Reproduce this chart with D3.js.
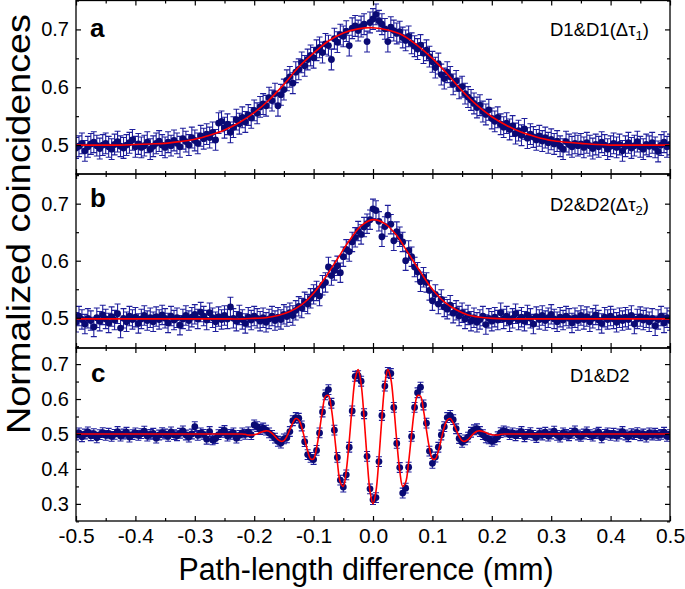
<!DOCTYPE html>
<html><head><meta charset="utf-8">
<script src="https://cdn.jsdelivr.net/npm/d3@7"></script>
<style>body{margin:0;background:#fff}svg{display:block}</style>
</head><body><svg id="c" width="685" height="589"></svg>
<script>
// ---- data (x grid of the measured points: -0.5 .. 0.5 mm, step 0.005 mm)
const xStart = -0.5, xStep = 0.005;

const dataA = [
.495,.498,.503,.490,.497,.502,.505,.499,.494,.500,
.503,.497,.493,.501,.506,.498,.495,.500,.504,.509,
.497,.502,.496,.499,.505,.493,.498,.503,.507,.500,
.496,.505,.499,.508,.503,.497,.511,.506,.500,.513,
.508,.503,.516,.511,.519,.513,.522,.509,.538,.541,
.530,.536,.522,.531,.544,.537,.548,.540,.552,.547,
.560,.555,.566,.571,.568,.582,.577,.589,.568,.587,
.596,.612,.618,.607,.626,.631,.643,.637,.648,.655,
.651,.664,.669,.660,.675,.672,.648,.684,.678,.691,
.688,.697,.672,.702,.706,.698,.705,.709,.679,.712,
.718,.726,.715,.709,.701,.679,.704,.698,.693,.696,
.686,.681,.688,.676,.671,.666,.673,.659,.664,.653,
.644,.634,.641,.622,.615,.626,.618,.605,.611,.598,
.601,.589,.583,.578,.572,.565,.569,.558,.553,.561,
.546,.541,.548,.536,.531,.538,.527,.533,.520,.525,
.517,.528,.512,.519,.514,.509,.516,.507,.513,.504,
.510,.502,.507,.498,.493,.506,.501,.497,.503,.499,
.502,.496,.504,.499,.494,.501,.497,.505,.500,.493,
.498,.503,.496,.501,.490,.498,.504,.495,.499,.506,
.497,.493,.501,.498,.504,.496,.489,.500,.505,.497,
.501];

const dataB = [
.492,.503,.497,.489,.499,.495,.484,.500,.494,.505,
.498,.491,.502,.496,.507,.482,.499,.493,.503,.497,
.501,.490,.498,.504,.495,.500,.493,.502,.497,.505,
.499,.491,.503,.496,.500,.487,.498,.504,.495,.501,
.506,.498,.510,.503,.496,.509,.500,.493,.502,.497,
.504,.498,.519,.499,.494,.505,.497,.490,.501,.496,
.503,.499,.494,.500,.492,.498,.503,.495,.501,.497,
.506,.502,.509,.504,.513,.520,.517,.528,.524,.534,
.541,.547,.538,.557,.562,.589,.574,.583,.591,.579,
.607,.620,.616,.633,.641,.652,.646,.659,.665,.672,
.691,.688,.669,.642,.660,.680,.664,.635,.651,.642,
.633,.600,.618,.607,.589,.580,.563,.571,.562,.548,
.530,.541,.524,.532,.519,.515,.522,.508,.513,.503,
.509,.498,.505,.494,.500,.492,.497,.503,.488,.499,
.494,.501,.496,.509,.498,.503,.493,.499,.507,.496,
.501,.494,.505,.499,.489,.502,.497,.504,.495,.500,
.506,.498,.493,.501,.496,.503,.499,.491,.500,.495,
.504,.497,.502,.493,.499,.505,.496,.490,.501,.497,
.503,.498,.492,.500,.495,.501,.497,.504,.489,.498,
.502,.496,.500,.493,.499,.486,.497,.503,.491,.500,
.495];

const dataC = [
.497,.503,.492,.500,.506,.495,.501,.489,.498,.504,
.496,.502,.493,.499,.507,.494,.500,.505,.491,.498,
.503,.496,.501,.508,.494,.499,.502,.488,.497,.504,
.500,.493,.506,.498,.495,.502,.509,.497,.491,.500,
.521,.496,.503,.499,.485,.507,.483,.487,.498,.505,
.510,.494,.499,.503,.488,.496,.503,.499,.506,.498,
.526,.521,.513,.517,.511,.503,.496,.488,.479,.474,
.486,.489,.507,.538,.547,.545,.523,.478,.441,.433,
.427,.453,.503,.563,.612,.627,.588,.511,.433,.368,
.348,.383,.462,.566,.665,.667,.651,.558,.436,.343,
.312,.318,.421,.553,.637,.676,.673,.576,.473,.404,
.331,.345,.405,.493,.576,.618,.634,.583,.531,.451,
.416,.434,.462,.497,.521,.547,.553,.541,.515,.487,
.476,.483,.491,.505,.512,.515,.507,.498,.489,.486,
.479,.483,.492,.504,.509,.506,.498,.503,.495,.501,
.507,.492,.499,.504,.496,.490,.502,.497,.505,.494,
.500,.508,.496,.491,.503,.499,.495,.502,.509,.497,
.493,.500,.506,.498,.494,.501,.505,.489,.499,.503,
.496,.502,.494,.500,.507,.497,.492,.501,.498,.504,
.495,.500,.491,.503,.497,.502,.496,.499,.505,.493,
.498];

const errA = 0.018, errB = 0.017, errC = 0.014;

const fitAStart = -0.5, fitAStep = 0.025;
const fitA = [.500,.500,.500,.500,.501,.502,.503,.506,.510,.517,
.526,.539,.556,.578,.605,.635,.659,.680,.694,.701,
.703,.699,.690,.672,.650,.623,.594,.569,.549,.534,
.522,.514,.508,.505,.503,.501,.500,.500,.500,.500,.500];

const fitBStart = -0.5, fitBStep = 0.02;
const fitB = [.498,.498,.498,.498,.498,.498,.498,.498,.498,.498,
.498,.498,.498,.498,.498,.499,.500,.504,.511,.523,
.543,.571,.603,.635,.661,.672,.665,.644,.612,.580,
.550,.528,.514,.505,.501,.499,.498,.498,.498,.498,
.498,.498,.498,.498,.498,.498,.498,.498,.498,.498,.498];

const fitCStart = -0.5, fitCStep = 0.005;
const fitC = [
.500,.500,.500,.500,.500,.500,.500,.500,.500,.500,
.500,.500,.500,.500,.500,.500,.500,.500,.500,.500,
.500,.500,.500,.500,.500,.500,.500,.500,.500,.500,
.500,.500,.500,.500,.500,.500,.500,.500,.500,.500,
.500,.500,.500,.500,.500,.500,.500,.500,.500,.500,
.500,.500,.500,.500,.500,.500,.500,.499,.497,.497,
.498,.500,.504,.507,.509,.508,.502,.493,.484,.479,
.481,.493,.512,.532,.544,.540,.519,.486,.451,.429,
.429,.460,.511,.568,.608,.610,.572,.500,.420,.362,
.350,.395,.480,.580,.658,.684,.643,.547,.430,.336,
.300,.336,.430,.547,.643,.684,.658,.580,.480,.395,
.350,.362,.420,.500,.572,.610,.608,.568,.511,.460,
.429,.429,.451,.486,.519,.540,.544,.532,.512,.493,
.481,.479,.484,.493,.502,.508,.509,.507,.504,.500,
.498,.497,.497,.499,.500,.500,.500,.500,.500,.500,
.500,.500,.500,.500,.500,.500,.500,.500,.500,.500,
.500,.500,.500,.500,.500,.500,.500,.500,.500,.500,
.500,.500,.500,.500,.500,.500,.500,.500,.500,.500,
.500,.500,.500,.500,.500,.500,.500,.500,.500,.500,
.500,.500,.500,.500,.500,.500,.500,.500,.500,.500,
.500];

const xTicks = [-0.5,-0.4,-0.3,-0.2,-0.1,0.0,0.1,0.2,0.3,0.4,0.5];
const xMinor = [-0.45,-0.35,-0.25,-0.15,-0.05,0.05,0.15,0.25,0.35,0.45];
const yTicksAB = [0.5,0.6,0.7];
const yMinorAB = [0.45,0.55,0.65,0.75];
const yTicksC = [0.3,0.4,0.5,0.6,0.7];
const yMinorC = [0.25,0.35,0.45,0.55,0.65,0.75];
const panelLetters = ["a","b","c"];
const notes = [["D1&D1(Δτ","1",")"],["D2&D2(Δτ","2",")"],["D1&D2","",""]];
const xTitle = "Path-length difference (mm)";
const yTitle = "Normalized coincidences";

// ---- layout
const FONT = "'Liberation Sans', Arial, Helvetica, sans-serif";
const L = 76, R = 670;
const panels = [
  {data:dataA, err:errA, fit:fitA, fs:fitAStart, fst:fitAStep, dom:[0.45,0.75], top:0.5, bot:174, ticks:yTicksAB, minor:yMinorAB, lab:[90,37], note:[550,36]},
  {data:dataB, err:errB, fit:fitB, fs:fitBStart, fst:fitBStep, dom:[0.447,0.752], top:174, bot:348, ticks:yTicksAB, minor:yMinorAB, lab:[90,207], note:[550,211]},
  {data:dataC, err:errC, fit:fitC, fs:fitCStart, fst:fitCStep, dom:[0.251,0.746], top:348, bot:521, ticks:yTicksC, minor:yMinorC, lab:[91,382], note:[570,382]}
];

const fmt1 = v => v.toFixed(1);   // ASCII hyphen-minus as in the original
const svg = d3.select("#c");
const x = d3.scaleLinear().domain([-0.5,0.5]).range([L,R]);
const BAR = "#1e1e9c", DOT = "#0a0a74";

panels.forEach((p,k)=>{
  const y = d3.scaleLinear().domain(p.dom).range([p.bot,p.top]);
  const cid = "clip"+k;
  svg.append("clipPath").attr("id",cid).append("rect")
     .attr("x",L).attr("y",p.top).attr("width",R-L).attr("height",p.bot-p.top);
  const g = svg.append("g").attr("clip-path",`url(#${cid})`);
  const pts = p.data.map((v,i)=>({x:+(xStart+i*xStep).toFixed(4), y:v}));
  g.selectAll("path.eb").data(pts).join("path").attr("class","eb")
    .attr("d",d=>{const cx=x(d.x), a=y(d.y+p.err), b=y(d.y-p.err);
      return `M${cx},${a}V${b}M${cx-3},${a}H${cx+3}M${cx-3},${b}H${cx+3}`;})
    .attr("stroke",BAR).attr("stroke-width",1.1).attr("fill","none");
  g.selectAll("circle").data(pts).join("circle")
    .attr("cx",d=>x(d.x)).attr("cy",d=>y(d.y)).attr("r",3.4).attr("fill",DOT);
  const fpts = p.fit.map((v,i)=>[+(p.fs+i*p.fst).toFixed(4), v]);
  g.append("path").datum(fpts)
    .attr("d", d3.line().x(d=>x(d[0])).y(d=>y(d[1])).curve(d3.curveCatmullRom.alpha(0.5)))
    .attr("fill","none").attr("stroke","#ff0000").attr("stroke-width",1.6);

  // axes (ticks inside on all four sides)
  const mk = (axis, tr, vals, size, f) => {
    const a = svg.append("g").attr("transform",tr)
      .call(axis.tickValues(vals).tickSize(size).tickSizeOuter(0).tickFormat(f));
    a.select(".domain").remove();
    a.selectAll("line").attr("stroke","#000").attr("stroke-width",1.2);
    return a;
  };
  const yl = mk(d3.axisLeft(y).tickPadding(7), `translate(${L},0)`, p.ticks, -5, fmt1);
  yl.selectAll("text").attr("font-family",FONT).attr("font-size",20).attr("fill","#000");
  mk(d3.axisLeft(y), `translate(${L},0)`, p.minor, -3, "");
  mk(d3.axisRight(y), `translate(${R},0)`, p.ticks, -5, "");
  mk(d3.axisRight(y), `translate(${R},0)`, p.minor, -3, "");
  const xb = mk(d3.axisBottom(x).tickPadding(7), `translate(0,${p.bot})`, xTicks, -5, k===2 ? fmt1 : "");
  xb.selectAll("text").attr("font-family",FONT).attr("font-size",21).attr("fill","#000");
  mk(d3.axisBottom(x), `translate(0,${p.bot})`, xMinor, -3, "");
  mk(d3.axisTop(x), `translate(0,${p.top})`, xTicks, -5, "");
  mk(d3.axisTop(x), `translate(0,${p.top})`, xMinor, -3, "");

  // frame
  svg.append("rect").attr("x",L).attr("y",p.top).attr("width",R-L).attr("height",p.bot-p.top)
     .attr("fill","none").attr("stroke","#000").attr("stroke-width",1.3);

  // panel letter
  svg.append("text").attr("x",p.lab[0]).attr("y",p.lab[1]).text(panelLetters[k])
     .attr("font-family",FONT).attr("font-weight","bold").attr("font-size",26).attr("fill","#000");
  // annotation
  const t = svg.append("text").attr("x",p.note[0]).attr("y",p.note[1])
     .attr("font-family",FONT).attr("font-size",18.5).attr("fill","#000");
  t.append("tspan").text(notes[k][0]);
  if (notes[k][1]) {
    t.append("tspan").attr("dy",4).attr("font-size",13).text(notes[k][1]);
    t.append("tspan").attr("dy",-4).text(notes[k][2]);
  }
});

// axis titles
svg.append("text").attr("x",366).attr("y",580).attr("text-anchor","middle")
   .attr("font-family",FONT).attr("font-size",31).attr("fill","#000")
   .attr("textLength",375).attr("lengthAdjust","spacingAndGlyphs").text(xTitle);
svg.append("text").attr("transform","translate(30,224) rotate(-90)").attr("text-anchor","middle")
   .attr("font-family",FONT).attr("font-size",34).attr("fill","#000")
   .attr("textLength",420).attr("lengthAdjust","spacingAndGlyphs").text(yTitle);
</script>
</body></html>
